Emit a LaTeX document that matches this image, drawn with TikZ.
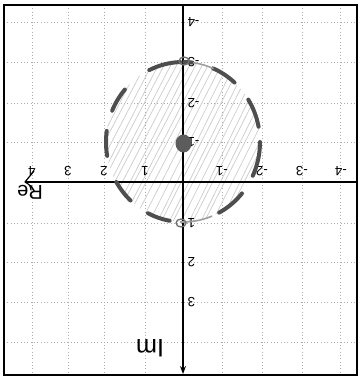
\documentclass[tikz,border=0pt]{standalone}
\usepackage{fontspec}
\setmainfont{Liberation Sans}
\usetikzlibrary{arrows.meta}
\definecolor{bndc}{HTML}{4E4E4E}
\definecolor{dotc}{HTML}{5C5C5C}
\definecolor{hatchc}{HTML}{CDCDCD}
\begin{document}
\begin{tikzpicture}[x=0.75pt,y=-0.75pt,
  gridline/.style={gray!65, dotted, line width=0.5pt},
  axisline/.style={black, line width=0.9pt},
  bnd/.style={bndc, line width=3pt, line cap=round},
  bndlight/.style={bndc!55, line width=1.2pt, line cap=round},
  hatch/.style={hatchc, line width=0.55pt},
  lab/.style={rotate=180, font=\fontsize{10}{11}\selectfont, inner sep=1pt},
  biglab/.style={rotate=180, inner sep=0pt},
]
\useasboundingbox (0,0) rectangle (361,377);
% grid
\foreach \x in {32,68,104,145,222,262,302,340}
  \draw[gridline] (\x,5) -- (\x,375);
\foreach \y in {22,62,103,142,223,262,302,342}
  \draw[gridline] (4,\y) -- (357,\y);
% hatching of the disc
\begin{scope}
  \clip (183,142) ellipse [x radius=77, y radius=80];
  \foreach \i in {-26,...,26}{
    \pgfmathsetmacro{\xa}{183+\i*6.3-50+mod(\i*7,5)-2}
    \pgfmathsetmacro{\xb}{183+\i*6.3+50}
    \draw[hatch] (\xa,242) -- (\xb,42);
  }
\end{scope}
% axes
\coordinate (ytop) at (183,5);
\coordinate (ybot) at (183,374);
\coordinate (xr) at (357,182);
\coordinate (xl) at (25,182);
\coordinate (xb1) at (34,171);
\coordinate (xb2) at (31,190);
\draw[axisline, -{Stealth[length=6pt,width=4.5pt]}] (ytop) -- (ybot);
\draw[axisline] (xr) -- (xl);
\draw[axisline, line cap=round, line join=round]
  (xb1) .. controls (29,177) .. (xl) .. controls (30,185) .. (xb2);
% Re tick labels
\foreach \x/\t in {145/1,104/2,68/3,32/4,222/-1,262/-2,302/-3,341/-4}
  \node[lab, anchor=north] (re\x) at (\x,177) {\t};
% Im tick labels
\foreach \y/\t in {22/-4,62/-3,103/-2,142/-1,223/1,262/2,302/3}
  \node[lab, anchor=east] (im\y) at (186,\y) {\t};
% axis names
\node[biglab, font=\fontsize{19}{20}\selectfont] (imname) at (150,348) {Im};
\node[biglab, font=\fontsize{15}{16}\selectfont] (rename) at (30,192) {Re};
% dashed boundary
\foreach \a/\b in {-116/-92, -67/-48, -32/-11, 0/25, 40/62, 100/117, 133/150, 170/188, -157/-139, -89/-83}
  \draw[bnd] (183,142) ++(\a:77 and 80) arc[start angle=\a, end angle=\b, x radius=77, y radius=80];
\foreach \a/\b in {68/92, -82/-67}
  \draw[bndlight] (183,142) ++(\a:77 and 80) arc[start angle=\a, end angle=\b, x radius=77, y radius=80];
% scribbles on the boundary
\draw[bndc!80, line width=1pt] (184,61) ellipse [x radius=5, y radius=4];
\draw[bndc!80, line width=1pt] (181,223) ellipse [x radius=5, y radius=4];
% centre
\fill[dotc] (183.5,143.5) ellipse [x radius=8, y radius=9];
% frame
\draw[black, line width=1.1pt] (4,5) rectangle (357,375);
\end{tikzpicture}
\end{document}
